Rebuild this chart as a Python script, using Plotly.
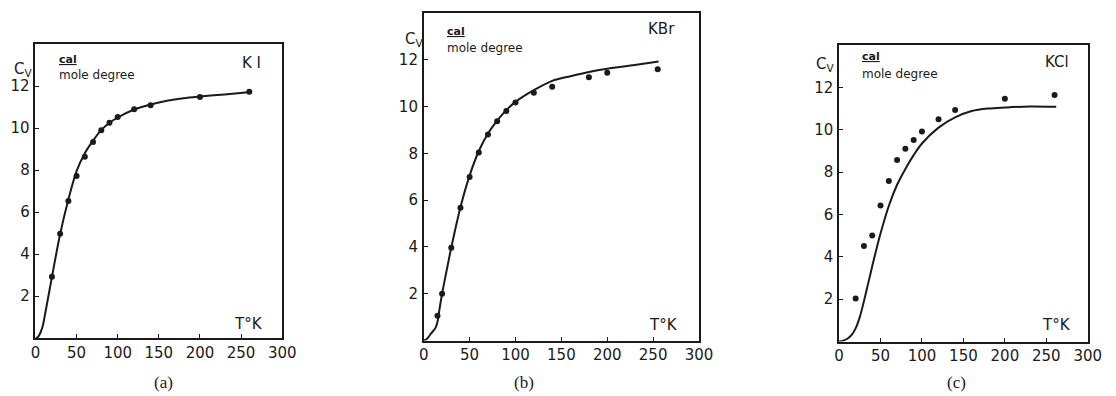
import plotly.graph_objects as go

W, H = 1116, 396

# ---------------- data ----------------
# (a) KI
ki_T = [20, 30, 40, 50, 60, 70, 80, 90, 100, 120, 140, 200, 260]
ki_cv = [2.92, 4.97, 6.52, 7.71, 8.63, 9.33, 9.89, 10.25, 10.52, 10.89, 11.08, 11.48, 11.73]
ki_curve_T = [0, 3, 6, 9, 12, 20, 30, 40, 50, 60, 70, 80, 90, 100, 120, 140, 160, 180, 200, 230, 262]
ki_curve_cv = [0, 0.05, 0.25, 0.6, 1.2, 2.9, 4.95, 6.6, 7.95, 8.8, 9.4, 9.9, 10.25, 10.5, 10.88, 11.12, 11.3, 11.42, 11.5, 11.6, 11.72]

# (b) KBr
kbr_T = [15, 20, 30, 40, 50, 60, 70, 80, 90, 100, 120, 140, 180, 200, 255]
kbr_cv = [1.06, 2.0, 3.97, 5.67, 6.99, 8.04, 8.81, 9.37, 9.81, 10.17, 10.59, 10.85, 11.25, 11.45, 11.6]
kbr_curve_T = [0, 3, 8, 13, 15.5, 17, 20, 25, 30, 40, 50, 60, 70, 80, 90, 100, 120, 140, 160, 180, 200, 230, 256]
kbr_curve_cv = [0, 0.05, 0.3, 0.55, 0.9, 1.3, 2.0, 3.0, 3.97, 5.7, 7.05, 8.1, 8.85, 9.4, 9.85, 10.2, 10.7, 11.1, 11.3, 11.48, 11.62, 11.78, 11.93]

# (c) KCl
kcl_T = [20, 30, 40, 50, 60, 70, 80, 90, 100, 120, 140, 200, 260]
kcl_cv = [2.03, 4.51, 5.0, 6.42, 7.58, 8.57, 9.1, 9.51, 9.91, 10.49, 10.93, 11.46, 11.64]
kcl_curve_T = [0, 5, 10, 15, 20, 25, 30, 35, 40, 45, 50, 60, 70, 80, 90, 100, 120, 140, 160, 180, 200, 230, 262]
kcl_curve_cv = [0, 0.04, 0.13, 0.3, 0.62, 1.15, 1.9, 2.72, 3.55, 4.35, 5.1, 6.4, 7.4, 8.15, 8.8, 9.35, 10.1, 10.58, 10.88, 11.0, 11.05, 11.1, 11.08]

x_ticks = [0, 50, 100, 150, 200, 250, 300]
y_ticks = [2, 4, 6, 8, 10, 12]
salts = ["K I", "KBr", "KCl"]
captions = ["(a)", "(b)", "(c)"]

# ---------------- layout helpers ----------------
def px(x):
    return x / W

def py(y):
    return 1 - y / H

# panel frames in pixels: left, right, top, bottom
frames = [(31, 282, 44, 338), (426, 706, 13, 340.5), (848.5, 1101.5, 45, 341.5)]

FONT = "DejaVu Sans"
INK = "#1a1a1a"

fig = go.Figure()

series = [
    (ki_T, ki_cv, ki_curve_T, ki_curve_cv),
    (kbr_T, kbr_cv, kbr_curve_T, kbr_curve_cv),
    (kcl_T, kcl_cv, kcl_curve_T, kcl_curve_cv),
]

for i, (T, cv, cT, ccv) in enumerate(series):
    xa = "x" if i == 0 else f"x{i+1}"
    ya = "y" if i == 0 else f"y{i+1}"
    fig.add_trace(go.Scatter(x=cT, y=ccv, mode="lines", xaxis=xa, yaxis=ya,
                             line=dict(color=INK, width=2, shape="spline", smoothing=0.9),
                             showlegend=False, hoverinfo="skip"))
    fig.add_trace(go.Scatter(x=T, y=cv, mode="markers", xaxis=xa, yaxis=ya,
                             marker=dict(color=INK, size=6),
                             showlegend=False))

layout = dict(width=W, height=H, margin=dict(l=0, r=0, t=0, b=0),
              paper_bgcolor="white", plot_bgcolor="white", showlegend=False)

annotations = []
for i, (l, r, t, b) in enumerate(frames):
    sx = "" if i == 0 else str(i + 1)
    layout[f"xaxis{sx}"] = dict(domain=[px(l), px(r)], range=[0, 300], anchor=f"y{sx}",
                                tickvals=x_ticks, ticktext=[str(v) for v in x_ticks],
                                ticks="inside", ticklen=4, tickwidth=1.3, tickcolor=INK,
                                showline=True, linecolor=INK, linewidth=1.6, mirror=True,
                                showgrid=False, zeroline=False,
                                tickfont=dict(family=FONT, size=15, color=INK))
    layout[f"yaxis{sx}"] = dict(domain=[py(b), py(t)], range=[0, 14], anchor=f"x{sx}",
                                tickvals=y_ticks, ticktext=[str(v) for v in y_ticks],
                                ticks="inside", ticklen=4, tickwidth=1.3, tickcolor=INK,
                                showline=True, linecolor=INK, linewidth=1.6, mirror=True,
                                showgrid=False, zeroline=False, ticklabelstandoff=1,
                                tickfont=dict(family=FONT, size=15, color=INK))

# text positions (pixels)
cv_pos = [(29, 69), (427, 40), (845, 64)]
cal_pos = [(53, 60), (448, 31), (870, 57)]
mole_pos = [(53, 75), (448, 48), (870, 74)]
salt_pos = [(251, 63), (668, 29), (1070, 62)]
tk_pos = [(248, 324), (670, 325), (1070, 325)]
cap_pos = [(161, 382), (528, 382), (968, 382)]

for i in range(3):
    x, y = cv_pos[i]
    annotations.append(dict(x=px(x), y=py(y), xref="paper", yref="paper", xanchor="right", yanchor="middle",
                            text="C<sub>V</sub>", showarrow=False, font=dict(family=FONT, size=15, color=INK)))
    x, y = cal_pos[i]
    annotations.append(dict(x=px(x), y=py(y), xref="paper", yref="paper", xanchor="left", yanchor="middle",
                            text="<u><b>cal</b></u>", showarrow=False,
                            font=dict(family=FONT, size=11, color=INK)))
    x, y = mole_pos[i]
    annotations.append(dict(x=px(x), y=py(y), xref="paper", yref="paper", xanchor="left", yanchor="middle",
                            text="mole degree", showarrow=False,
                            font=dict(family=FONT, size=12, color=INK)))
    x, y = salt_pos[i]
    annotations.append(dict(x=px(x), y=py(y), xref="paper", yref="paper", xanchor="center", yanchor="middle",
                            text=salts[i], showarrow=False, font=dict(family=FONT, size=15, color=INK)))
    x, y = tk_pos[i]
    annotations.append(dict(x=px(x), y=py(y), xref="paper", yref="paper", xanchor="center", yanchor="middle",
                            text="T°K", showarrow=False, font=dict(family=FONT, size=15, color=INK)))
    x, y = cap_pos[i]
    annotations.append(dict(x=px(x), y=py(y), xref="paper", yref="paper", xanchor="center", yanchor="middle",
                            text=captions[i], showarrow=False,
                            font=dict(family="Liberation Serif", size=17, color=INK)))

layout["annotations"] = annotations
fig.update_layout(**layout)
fig.write_html("out.html")
